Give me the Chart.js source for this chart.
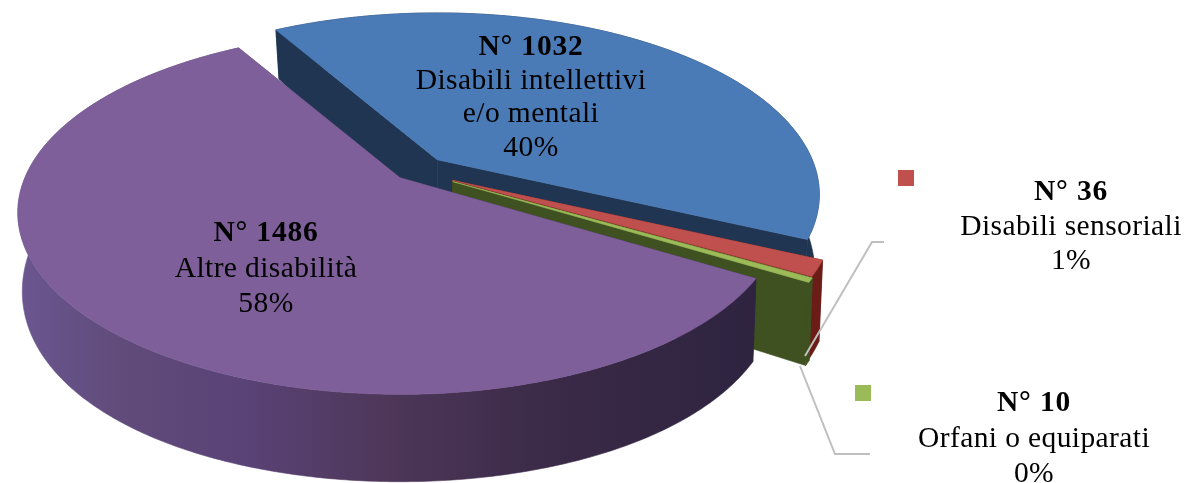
<!DOCTYPE html>
<html>
<head>
<meta charset="utf-8">
<title>Disabili</title>
<script src="https://cdn.jsdelivr.net/npm/chart.js@4"></script>
<style>
  html, body { margin: 0; padding: 0; background: #fff; }
  canvas { display: block; }
</style>
</head>
<body>
<canvas id="pie3d" width="1186" height="483"></canvas>
<script>
const categories = ["Disabili intellettivi\ne/o mentali", "Disabili sensoriali", "Orfani o equiparati", "Altre disabilità"];
const counts = [1032, 36, 10, 1486];
const percents = ["40%", "1%", "0%", "58%"];
const topColors = ["#4a7bb7", "#c0504d", "#9bbb59", "#7e5f9a"];
const wallColors = ["#1f3552", "#6b1c17", "#3f5120", "#4d3558"];
const explode = [16, 23, 24, 15];
const apexNudge = [[-2, 1], [-5, 4], [-5, 4], [1, 1.5]];

// perspective of the pie plane: top face and bottom face
const cam = {
  cx: 419, cy: 168, offX: 430, offY: 180,
  top: { rx: 375, ry: 175, kx: 0.192, ky: 0.192, drop: 0 },
  bottom: { rx: 370, ry: 198.9, kx: 0.2, ky: 0.14, drop: 72.7 }
};
const wallStops = [[0, "#6b5690"], [0.14, "#604b7a"], [0.3, "#5a4377"], [0.5, "#4e3759"], [0.72, "#3b2a48"], [1, "#2e2440"]];

// label blocks: centre x, first baseline, line height
const labelBoxes = [
  { x: 531, y: 55, lh: 33.5 },
  { x: 1071, y: 200, lh: 34.5 },
  { x: 1034, y: 411, lh: 35.5 },
  { x: 266, y: 241, lh: 35.5 }
];
const keyBoxes = { 1: { x: 898, y: 170 }, 2: { x: 855, y: 385 } };
const leaders = [
  [[884, 242], [872, 242], [805, 356]],
  [[800, 366], [835, 454], [870, 454]]
];

function project(apex, face, a, r) {
  const u = r * Math.cos(a), v = r * Math.sin(a);
  return {
    x: apex.x + face.rx * u / (1 - face.kx * v),
    y: apex.y + face.drop + face.ry * v / (1 - face.ky * v)
  };
}

function poly(ctx, pts, fill) {
  ctx.beginPath();
  pts.forEach((p, i) => i ? ctx.lineTo(p.x, p.y) : ctx.moveTo(p.x, p.y));
  ctx.closePath();
  ctx.fillStyle = fill;
  ctx.strokeStyle = fill;
  ctx.lineWidth = 0.6;
  ctx.fill();
  ctx.stroke();
}

function rim(apex, face, a0, a1) {
  const n = Math.max(2, Math.ceil((a1 - a0) * 90));
  const out = [];
  for (let i = 0; i <= n; i++) out.push(project(apex, face, a0 + (a1 - a0) * i / n, 1));
  return out;
}

const pie3d = {
  id: "pie3d",
  beforeDatasetDraw(chart) {
    const ctx = chart.ctx;
    const arcs = chart.getDatasetMeta(0).data;
    const grad = ctx.createLinearGradient(20, 0, 750, 0);
    wallStops.forEach(s => grad.addColorStop(s[0], s[1]));

    arcs.forEach((arc, i) => {
      const a0 = arc.startAngle, a1 = arc.endAngle, mid = (a0 + a1) / 2;
      const e = arc.options.offset / arc.outerRadius;
      const apex = {
        x: cam.cx + cam.offX * e * Math.cos(mid) + apexNudge[i][0],
        y: cam.cy + cam.offY * e * Math.sin(mid) + apexNudge[i][1]
      };
      const wall = i === 3 ? grad : wallColors[i];
      const topRim = rim(apex, cam.top, a0, a1);
      const botRim = rim(apex, cam.bottom, a0, a1);
      const apexBot = project(apex, cam.bottom, a0, 0);

      poly(ctx, [apex, topRim[0], botRim[0], apexBot], wall);
      poly(ctx, [apex, topRim[topRim.length - 1], botRim[botRim.length - 1], apexBot], wall);
      poly(ctx, topRim.concat(botRim.slice().reverse()), wall);
      poly(ctx, [apex].concat(topRim), topColors[i]);
    });

    // leader lines
    ctx.strokeStyle = "#bfbfbf";
    ctx.lineWidth = 2;
    leaders.forEach(line => {
      ctx.beginPath();
      line.forEach((p, i) => i ? ctx.lineTo(p[0], p[1]) : ctx.moveTo(p[0], p[1]));
      ctx.stroke();
    });
    return false;
  },
  afterDatasetsDraw(chart) {
    const ctx = chart.ctx;
    ctx.textAlign = "center";
    ctx.textBaseline = "alphabetic";
    ctx.fillStyle = "#000";
    counts.forEach((n, i) => {
      const box = labelBoxes[i];
      const lines = categories[i].split("\n").concat(percents[i]);
      ctx.font = "bold 29.5px 'Liberation Serif'";
      ctx.letterSpacing = "0.8px";
      ctx.fillText("N° " + n, box.x, box.y);
      ctx.font = "29.5px 'Liberation Serif'";
      ctx.letterSpacing = "0.4px";
      lines.forEach((t, k) => ctx.fillText(t, box.x, box.y + box.lh * (k + 1)));
      if (keyBoxes[i]) {
        ctx.fillStyle = topColors[i];
        ctx.fillRect(keyBoxes[i].x, keyBoxes[i].y, 16, 16);
        ctx.fillStyle = "#000";
      }
    });
  }
};

new Chart(document.getElementById("pie3d"), {
  type: "pie",
  data: {
    labels: categories,
    datasets: [{ data: counts, backgroundColor: topColors, offset: explode, borderWidth: 0 }]
  },
  options: {
    responsive: false,
    animation: false,
    rotation: -30.1,
    plugins: { legend: { display: false }, tooltip: { enabled: false } }
  },
  plugins: [pie3d]
});
</script>
</body>
</html>
